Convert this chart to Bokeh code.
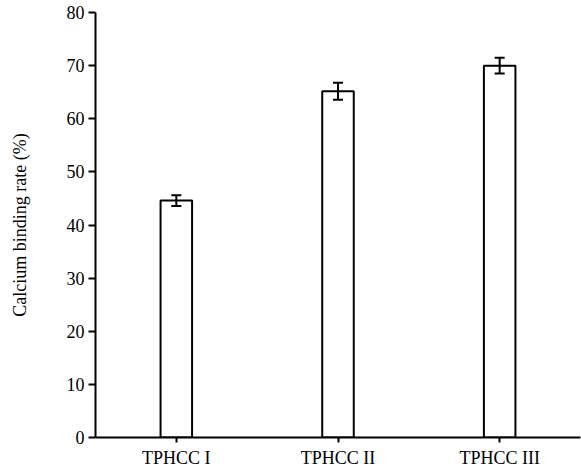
from bokeh.plotting import figure
from bokeh.models import ColumnDataSource, Whisker, TeeHead, FactorRange, Range1d
from bokeh.embed import file_html
from bokeh.resources import INLINE

categories = ["TPHCC I", "TPHCC II", "TPHCC III"]
values = [44.6, 65.2, 70.0]
errors = [1.0, 1.6, 1.5]
y_ticks = [0, 10, 20, 30, 40, 50, 60, 70, 80]

upper = [v + e for v, e in zip(values, errors)]
lower = [v - e for v, e in zip(values, errors)]
src = ColumnDataSource(dict(x=categories, top=values, upper=upper, lower=lower))

FONT = "Liberation Serif"

p = figure(x_range=FactorRange(*categories, range_padding=0.0),
           y_range=Range1d(0, 80),
           width=581, height=474, output_backend="svg", toolbar_location=None,
           min_border_left=95, min_border_right=1, min_border_top=12, min_border_bottom=37)

p.vbar(x="x", top="top", width=0.195, source=src, fill_color="white",
       line_color="black", line_width=2)

w = Whisker(source=src, base="x", upper="upper", lower="lower", dimension="height",
            line_color="black", line_width=2, level="overlay",
            upper_head=TeeHead(size=10, line_color="black", line_width=2),
            lower_head=TeeHead(size=10, line_color="black", line_width=2))
p.add_layout(w)

p.outline_line_color = None
p.grid.visible = False
p.background_fill_color = "white"

p.yaxis.ticker = y_ticks
p.yaxis.axis_label = "Calcium binding rate (%)"
p.yaxis.axis_label_text_font = FONT
p.yaxis.axis_label_text_font_style = "normal"
p.yaxis.axis_label_text_font_size = "18px"
p.yaxis.axis_label_text_color = "black"
p.yaxis.axis_label_standoff = 34

for ax in (p.xaxis[0], p.yaxis[0]):
    ax.axis_line_width = 2
    ax.axis_line_color = "black"
    ax.major_tick_line_width = 2
    ax.major_tick_line_color = "black"
    ax.major_tick_in = 0
    ax.minor_tick_line_color = None
    ax.major_label_text_font = FONT
    ax.major_label_text_font_size = "18px"
    ax.major_label_text_color = "black"

p.yaxis.major_tick_out = 7
p.yaxis.major_label_standoff = 4
p.xaxis.major_tick_out = 5
p.xaxis.major_label_standoff = 5

open("out.html", "w").write(file_html(p, INLINE))
